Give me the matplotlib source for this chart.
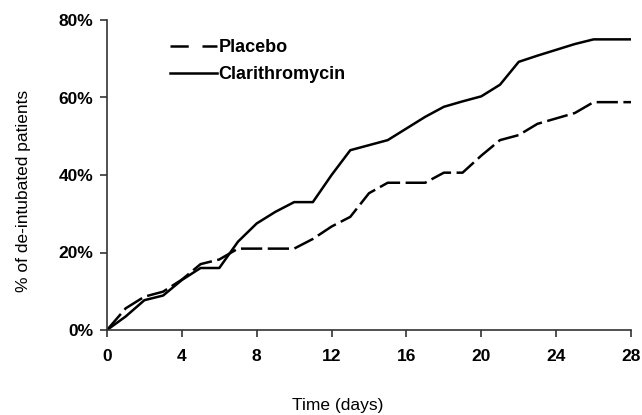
import matplotlib.pyplot as plt
from matplotlib.lines import Line2D

plt.rcParams['font.family'] = ['Liberation Sans', 'DejaVu Sans']

# Days since randomisation
days = list(range(0, 29))

# Cumulative % of de-intubated patients
placebo = [0, 5.6, 8.6, 9.9, 13, 17, 18.2, 21, 21, 21, 21, 23.5, 26.7, 29.2, 35.3,
           38, 38, 38, 40.6, 40.6, 45, 49, 50.3, 53.2, 54.6, 56, 58.8, 58.8, 58.8]
clarithro = [0, 3.5, 7.7, 8.9, 12.9, 16, 16, 22.8, 27.5, 30.5, 33, 33, 40, 46.4, 47.7,
             49, 52, 55, 57.6, 59, 60.3, 63.3, 69.2, 70.8, 72.3, 73.8, 75, 75, 75]

xticks = [0, 4, 8, 12, 16, 20, 24, 28]
yticks = [0, 20, 40, 60, 80]

fig = plt.figure(figsize=(6.42, 4.15), dpi=100)
ax = fig.add_axes([107/642, 1 - 330/415, (631-107)/642, (330-20)/415])

ax.plot(days, placebo, color="black", lw=1.8, dashes=(8.5, 2.2))
ax.plot(days, clarithro, color="black", lw=1.8)

ax.set_xlim(0, 28)
ax.set_ylim(0, 80)
ax.set_xticks(xticks)
ax.set_yticks(yticks)
ax.set_yticklabels([f"{v}%" for v in yticks])
for lab in ax.get_xticklabels() + ax.get_yticklabels():
    lab.set_fontweight("bold")
    lab.set_fontsize(12.5)

for side in ["top", "right"]:
    ax.spines[side].set_visible(False)
for side in ["left", "bottom"]:
    ax.spines[side].set_color("#333333")
    ax.spines[side].set_linewidth(1.2)
    ax.spines[side].set_clip_on(False)
ax.tick_params(direction="out", length=5, width=1.2, color="#333333")
ax.tick_params(axis="x", pad=9)
ax.tick_params(axis="y", pad=5)

fig.text(338/642, 1 - 405/415, "Time (days)", ha="center", va="center", fontsize=12.5)
fig.text(24/642, 1 - 191/415, "% of de-intubated patients", ha="center", va="center",
         rotation=90, fontsize=12.5)

handles = [Line2D([], [], color="black", lw=1.8, dashes=(7.3, 5.5)),
           Line2D([], [], color="black", lw=1.8)]
ax.legend(handles, ["Placebo", "Clarithromycin"], loc="upper left",
          bbox_to_anchor=(0.089, 0.99), frameon=False,
          handlelength=2.6, handletextpad=0.1, labelspacing=0.55,
          prop={"weight": "bold", "size": 13})

fig.savefig("out.png", dpi=100)
